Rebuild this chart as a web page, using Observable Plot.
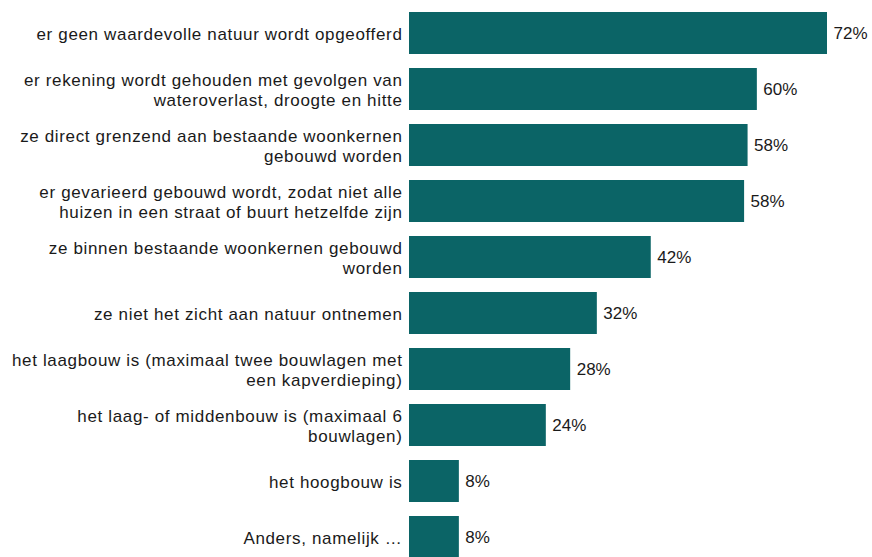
<!DOCTYPE html>
<html>
<head>
<meta charset="utf-8">
<script src="https://cdn.jsdelivr.net/npm/d3@7"></script>
<script src="https://cdn.jsdelivr.net/npm/@observablehq/plot@0.6"></script>
<style>
  html, body { margin: 0; padding: 0; background: #fff; }
  #chart svg { display: block; }
  #chart svg g[aria-label="y-axis tick label"] text { letter-spacing: 0.65px; }
</style>
</head>
<body>
<div id="chart"></div>
<script>
const categories = [
  "er geen waardevolle natuur wordt opgeofferd",
  "er rekening wordt gehouden met gevolgen van\nwateroverlast, droogte en hitte",
  "ze direct grenzend aan bestaande woonkernen\ngebouwd worden",
  "er gevarieerd gebouwd wordt, zodat niet alle\nhuizen in een straat of buurt hetzelfde zijn",
  "ze binnen bestaande woonkernen gebouwd\nworden",
  "ze niet het zicht aan natuur ontnemen",
  "het laagbouw is (maximaal twee bouwlagen met\neen kapverdieping)",
  "het laag- of middenbouw is (maximaal 6\nbouwlagen)",
  "het hoogbouw is",
  "Anders, namelijk …"
];
const values = [72.1, 60.0, 58.4, 57.8, 41.7, 32.4, 27.8, 23.6, 8.6, 8.6];
const valueLabels = ["72%", "60%", "58%", "58%", "42%", "32%", "28%", "24%", "8%", "8%"];

const data = categories.map((c, i) => ({category: c, value: values[i], label: valueLabels[i]}));

const chart = Plot.plot({
  width: 872,
  height: 557,
  marginLeft: 409,
  marginRight: 45,
  marginTop: 0,
  marginBottom: 0,
  style: {fontFamily: "Liberation Sans, Arial, sans-serif", fontSize: "17px", color: "#1a1a1a", background: "#fff"},
  x: {domain: [0, 72.1], axis: null},
  y: {domain: categories, range: [-3.5, 573], padding: 0.25, label: null},
  marks: [
    Plot.barX(data, {x: "value", y: "category", fill: "#0b6466"}),
    Plot.axisY({tickSize: 0, tickPadding: 7, fontSize: 17, lineHeight: 1.18, label: null, fill: "#1a1a1a", textOverflow: null}),
    Plot.text(data, {x: "value", y: "category", text: "label", textAnchor: "start", dx: 6, fontSize: 17, fill: "#1a1a1a"})
  ]
});
document.getElementById("chart").appendChild(chart);
</script>
</body>
</html>
